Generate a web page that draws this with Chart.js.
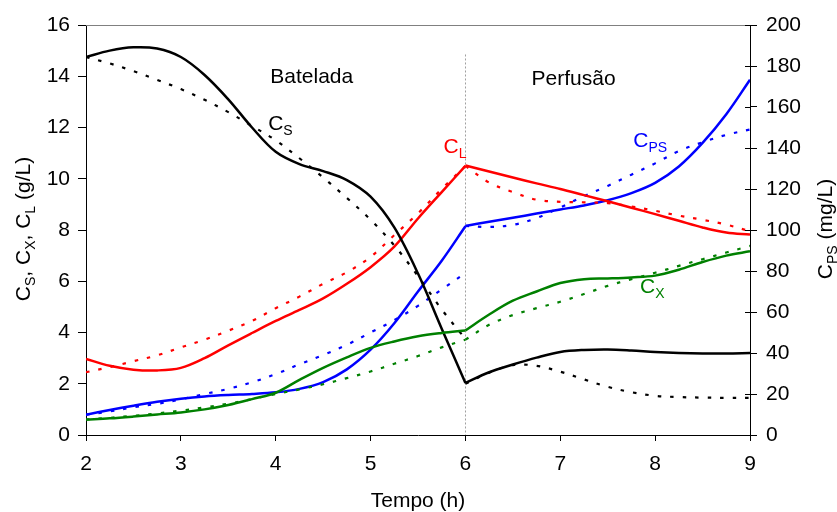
<!DOCTYPE html>
<html>
<head>
<meta charset="utf-8">
<script src="https://cdn.jsdelivr.net/npm/chart.js@4.4.0/dist/chart.umd.min.js"></script>
<style>
  html, body { margin: 0; padding: 0; background: #fff; }
  #wrap { width: 837px; height: 512px; }
</style>
</head>
<body>
<div id="wrap"><canvas id="chart" width="837" height="512"></canvas></div>
<script>
// tempo (h) - fase batelada e fase perfusão
const tBatch = [2, 2.25, 2.5, 2.75, 3, 3.25, 3.5, 3.75, 4, 4.25, 4.5, 4.75, 5, 5.25, 5.5, 5.75, 6];
const tPerf = [6, 6.25, 6.5, 6.75, 7, 7.25, 7.5, 7.75, 8, 8.25, 8.5, 8.75, 9];

// CS (g/L)
const csBatch = [14.75, 15.0, 15.13, 15.08, 14.75, 14.05, 13.1, 12.0, 11.05, 10.57, 10.3, 9.95, 9.3, 8.1, 6.3, 4.15, 2.03];
const csPerf = [2.03, 2.45, 2.75, 3.02, 3.24, 3.32, 3.34, 3.3, 3.24, 3.2, 3.18, 3.18, 3.2];
const csBatchDot = [14.75, 14.5, 14.2, 13.86, 13.5, 13.08, 12.6, 12.06, 11.5, 10.8, 10.05, 9.25, 8.4, 7.4, 6.2, 4.9, 3.75];
const csPerfDot = [2.0, 2.43, 2.73, 2.7, 2.47, 2.17, 1.88, 1.67, 1.53, 1.48, 1.46, 1.45, 1.45];

// CL (g/L)
const clBatch = [2.97, 2.7, 2.55, 2.52, 2.62, 3.0, 3.5, 3.98, 4.45, 4.88, 5.33, 5.9, 6.55, 7.35, 8.45, 9.48, 10.5];
const clPerf = [10.52, 10.28, 10.05, 9.82, 9.6, 9.36, 9.12, 8.87, 8.62, 8.36, 8.1, 7.9, 7.82];
const clBatchDot = [2.45, 2.65, 2.88, 3.11, 3.42, 3.72, 4.07, 4.45, 4.95, 5.4, 5.9, 6.35, 6.95, 7.8, 8.65, 9.6, 10.5];
const clPerfDot = [10.5, 9.85, 9.48, 9.18, 9.1, 9.08, 9.05, 8.92, 8.75, 8.56, 8.4, 8.21, 7.95];

// CX (g/L)
const cxBatch = [0.6, 0.65, 0.72, 0.8, 0.88, 1.0, 1.17, 1.4, 1.65, 2.15, 2.62, 3.03, 3.4, 3.65, 3.85, 3.98, 4.08];
const cxPerf = [4.08, 4.7, 5.24, 5.6, 5.93, 6.08, 6.11, 6.15, 6.22, 6.45, 6.75, 7.0, 7.17];
const cxBatchDot = [0.6, 0.67, 0.75, 0.84, 0.95, 1.08, 1.22, 1.4, 1.6, 1.78, 1.98, 2.22, 2.48, 2.78, 3.08, 3.42, 3.72];
const cxPerfDot = [3.72, 4.3, 4.68, 4.95, 5.2, 5.5, 5.82, 6.08, 6.33, 6.6, 6.86, 7.12, 7.38];

// CPS (mg/L) - eixo da direita
const cpsBatch = [9.9, 12.2, 14.3, 16.2, 17.7, 18.8, 19.5, 20.0, 20.8, 22.5, 25.8, 32, 41.6, 54.5, 70, 85, 101.8];
const cpsPerf = [102, 104, 106, 108, 110, 112, 114.5, 118, 123, 131, 142.5, 156.5, 173.3];
const cpsBatchDot = [9.9, 11.5, 13.5, 15.2, 17.4, 20.0, 22.5, 25.7, 29.7, 34.5, 39, 44, 50, 56, 63, 71, 79];
const cpsPerfDot = [102, 101.5, 102.5, 105.8, 111, 116.5, 121.5, 127, 132.5, 138.5, 142.8, 146.4, 149];

const FONT = "'Liberation Sans', Arial, sans-serif";

function line(ts, vs, color, dotted, axis) {
    return {
        data: ts.map((t, i) => ({ x: t, y: vs[i] })),
        borderColor: color,
        borderWidth: dotted ? 2.2 : 2.5,
        borderDash: dotted ? [3.5, 9] : [],
        pointRadius: 0,
        fill: false,
        tension: 0.35,
        yAxisID: axis || 'y'
    };
}

// texto com subscritos: runs = [[texto, subscrito?], ...]
function drawRuns(ctx, runs, x, y, align, rot, color) {
    ctx.save();
    ctx.translate(x, y);
    if (rot) ctx.rotate(rot);
    ctx.fillStyle = color;
    ctx.textBaseline = 'alphabetic';
    ctx.textAlign = 'left';
    let w = 0;
    runs.forEach(r => {
        ctx.font = (r[1] ? 14 : 21) + 'px ' + FONT;
        w += ctx.measureText(r[0]).width;
    });
    let cx = align === 'center' ? -w / 2 : 0;
    runs.forEach(r => {
        ctx.font = (r[1] ? 14 : 21) + 'px ' + FONT;
        ctx.fillText(r[0], cx, r[1] ? 5 : 0);
        cx += ctx.measureText(r[0]).width;
    });
    ctx.restore();
}

// anotações (posição em unidades dos eixos)
const notes = [
    { runs: [['Batelada', 0]], x: 4.38, y: 13.75, align: 'center', color: '#000' },
    { runs: [['Perfusão', 0]], x: 7.14, y: 13.67, align: 'center', color: '#000' },
    { runs: [['C', 0], ['S', 1]], x: 3.92, y: 11.92, align: 'left', color: '#000' },
    { runs: [['C', 0], ['L', 1]], x: 5.77, y: 11.02, align: 'left', color: '#ff0000' },
    { runs: [['C', 0], ['PS', 1]], x: 7.77, y: 11.25, align: 'left', color: '#0000ff' },
    { runs: [['C', 0], ['X', 1]], x: 7.84, y: 5.55, align: 'left', color: '#008000' }
];

const decor = {
    id: 'decor',
    beforeDatasetsDraw(chart) {
        const ctx = chart.ctx, a = chart.chartArea;
        const xs = chart.scales.x, ys = chart.scales.y, y1 = chart.scales.y1;
        ctx.save();
        // borda superior cinza
        ctx.strokeStyle = '#808080';
        ctx.lineWidth = 1;
        ctx.beginPath();
        ctx.moveTo(a.left, a.top + 0.5);
        ctx.lineTo(a.right, a.top + 0.5);
        ctx.stroke();
        // linha de separação das fases
        const px = Math.round(xs.getPixelForValue(6)) + 0.5;
        ctx.strokeStyle = '#a0a0a0';
        ctx.setLineDash([2, 2]);
        ctx.beginPath();
        ctx.moveTo(px, ys.getPixelForValue(14.85));
        ctx.lineTo(px, a.bottom);
        ctx.stroke();
        ctx.setLineDash([]);
        // ticks internos do eixo da direita
        ctx.strokeStyle = '#000';
        y1.ticks.forEach(t => {
            const py = Math.round(y1.getPixelForValue(t.value)) + 0.5;
            ctx.beginPath();
            ctx.moveTo(a.right - 5, py);
            ctx.lineTo(a.right, py);
            ctx.stroke();
        });
        ctx.restore();
    },
    afterDraw(chart) {
        const ctx = chart.ctx, xs = chart.scales.x, ys = chart.scales.y;
        notes.forEach(n => {
            drawRuns(ctx, n.runs, xs.getPixelForValue(n.x), ys.getPixelForValue(n.y), n.align, 0, n.color);
        });
        // títulos dos eixos
        drawRuns(ctx, [['C', 0], ['S', 1], [', C', 0], ['X', 1], [', C', 0], ['L', 1], [' (g/L)', 0]],
            30, 229, 'center', -Math.PI / 2, '#000');
        drawRuns(ctx, [['C', 0], ['PS', 1], [' (mg/L)', 0]], 832, 229, 'center', -Math.PI / 2, '#000');
        drawRuns(ctx, [['Tempo (h)', 0]], 418, 507, 'center', 0, '#000');
    }
};

const tickFont = { family: FONT, size: 21 };

new Chart(document.getElementById('chart').getContext('2d'), {
    type: 'line',
    data: {
        datasets: [
            line(tBatch, cxBatchDot, '#008000', true),
            line(tPerf, cxPerfDot, '#008000', true),
            line(tBatch, cxBatch, '#008000', false),
            line(tPerf, cxPerf, '#008000', false),
            line(tBatch, csBatchDot, '#000000', true),
            line(tPerf, csPerfDot, '#000000', true),
            line(tBatch, csBatch, '#000000', false),
            line(tPerf, csPerf, '#000000', false),
            line(tBatch, clBatchDot, '#ff0000', true),
            line(tPerf, clPerfDot, '#ff0000', true),
            line(tBatch, clBatch, '#ff0000', false),
            line(tPerf, clPerf, '#ff0000', false),
            line(tBatch, cpsBatchDot, '#0000ff', true, 'y1'),
            line(tPerf, cpsPerfDot, '#0000ff', true, 'y1'),
            line(tBatch, cpsBatch, '#0000ff', false, 'y1'),
            line(tPerf, cpsPerf, '#0000ff', false, 'y1')
        ]
    },
    options: {
        responsive: false,
        animation: false,
        layout: { padding: { top: 25 } },
        plugins: {
            legend: { display: false },
            tooltip: { enabled: false }
        },
        scales: {
            x: {
                type: 'linear', min: 2, max: 9,
                ticks: { stepSize: 1, font: tickFont, color: '#000', padding: 11 },
                grid: { drawOnChartArea: false, tickLength: 6, color: '#000' },
                border: { color: '#000', width: 1 },
                afterFit: s => { s.height = 77; }
            },
            y: {
                position: 'left', min: 0, max: 16,
                ticks: { stepSize: 2, font: tickFont, color: '#000', padding: 8 },
                grid: { drawOnChartArea: false, tickLength: 8, color: '#000' },
                border: { color: '#000', width: 1 },
                afterFit: s => { s.width = 86; }
            },
            y1: {
                position: 'right', min: 0, max: 200,
                ticks: { stepSize: 20, font: tickFont, color: '#000', padding: 9 },
                grid: { drawOnChartArea: false, tickLength: 7, color: '#000' },
                border: { color: '#000', width: 1 },
                afterFit: s => { s.width = 87; }
            }
        }
    },
    plugins: [decor]
});
</script>
</body>
</html>
